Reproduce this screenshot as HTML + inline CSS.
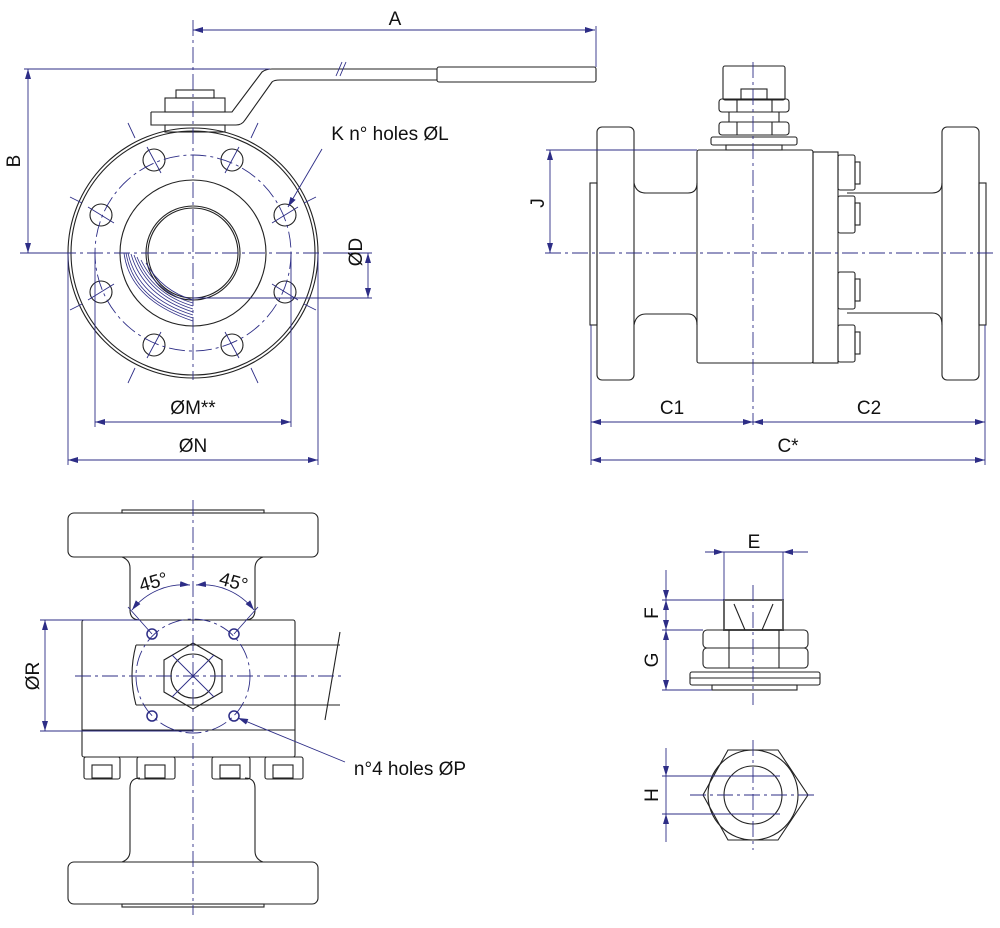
<!DOCTYPE html>
<html><head><style>html,body{margin:0;padding:0;background:#fff}svg{display:block}</style></head><body>
<svg width="1000" height="928" viewBox="0 0 1000 928" xmlns="http://www.w3.org/2000/svg" font-family="Liberation Sans, sans-serif">
<defs>
<marker id="ar" viewBox="0 0 10 6" refX="10" refY="3" markerWidth="10" markerHeight="6" orient="auto-start-reverse" markerUnits="userSpaceOnUse"><path d="M0,0L10,3L0,6z" fill="#2d2d86"/></marker>
</defs>
<g fill="none" stroke="#222" stroke-width="1.1">
<!-- TOP LEFT VIEW -->
<circle cx="193" cy="253" r="125"/><circle cx="193" cy="253" r="122"/>
<circle cx="193" cy="253" r="73"/><circle cx="193" cy="253" r="47"/><circle cx="193" cy="253" r="45"/>
<g>
<circle cx="154" cy="160" r="11"/><circle cx="232" cy="160" r="11"/>
<circle cx="101" cy="215" r="11"/><circle cx="285" cy="215" r="11"/>
<circle cx="101" cy="292" r="11"/><circle cx="285" cy="292" r="11"/>
<circle cx="154" cy="345" r="11"/><circle cx="232" cy="345" r="11"/>
</g>
<!-- handle -->
<rect x="176" y="90" width="38" height="8"/><rect x="165" y="98" width="60" height="14"/>
<rect x="165" y="125" width="60" height="7"/>
<path d="M151,112 H232 L262,72 Q266,69 272,69 H437 M151,112 V125 H236 Q242,125 245,120 L272,82 Q274,80 280,80 H437"/>
<rect x="437" y="67" width="159" height="15" rx="2"/>
<!-- TOP RIGHT VIEW -->
<rect x="597" y="127" width="37" height="253" rx="5"/><rect x="590" y="183" width="7" height="142"/>
<rect x="942" y="127" width="37" height="253" rx="5"/><rect x="979" y="183" width="7" height="142"/>
<path d="M634,183 Q636,193 646,193 H688 Q697,193 697,183 M634,325 Q636,314 646,314 H688 Q697,314 697,325"/>
<path d="M847,193 H932 Q942,193 942,183 M847,313 H932 Q942,313 942,325"/>
<rect x="697" y="150" width="116" height="213" rx="2"/><rect x="813" y="152" width="25" height="211"/>
<g><rect x="838" y="155" width="17" height="35" rx="2"/><rect x="855" y="162" width="5" height="22"/>
<rect x="838" y="196" width="17" height="37" rx="2"/><rect x="855" y="203" width="5" height="22"/>
<rect x="838" y="272" width="17" height="37" rx="2"/><rect x="855" y="279" width="5" height="22"/>
<rect x="838" y="325" width="17" height="37" rx="2"/><rect x="855" y="332" width="5" height="22"/></g>
<rect x="723" y="66" width="62" height="34" rx="2"/><rect x="741" y="89" width="26" height="10"/>
<rect x="719" y="99" width="70" height="13" rx="3"/><rect x="719" y="122" width="70" height="13" rx="3"/>
<path d="M737,99 V112 M772,99 V112 M737,122 V135 M772,122 V135 M729,112 V122 M779,112 V122"/>
<rect x="711" y="137" width="86" height="8" rx="2"/><rect x="726" y="145" width="56" height="5"/>
<!-- BOTTOM LEFT VIEW -->
<rect x="68" y="513" width="250" height="44" rx="6"/><rect x="122" y="510" width="142" height="3"/>
<rect x="68" y="862" width="250" height="42" rx="6"/><rect x="122" y="904" width="142" height="3"/>
<path d="M122,557 Q130,560 130,568 V610 Q130,620 140,620 M263,557 Q255,560 255,568 V610 Q255,620 245,620"/>
<path d="M122,862 Q130,859 130,851 V788 Q130,778 140,778 M263,862 Q255,859 255,851 V788 Q255,778 245,778"/>
<rect x="82" y="620" width="213" height="137" rx="2"/><line x1="82" y1="730" x2="295" y2="730"/>
<path d="M136,645 H340 M136,705 H340 M136,645 Q128,675 136,705"/>
<path d="M340,632 L325,720"/>
<polygon points="193,643 222,660 222,692 193,709 164,692 164,660"/>
<circle cx="193" cy="676" r="22"/>
<g><rect x="84" y="757" width="36" height="22" rx="2"/><rect x="92" y="765" width="20" height="13"/>
<rect x="137" y="757" width="38" height="22" rx="2"/><rect x="145" y="765" width="20" height="13"/>
<rect x="212" y="757" width="38" height="22" rx="2"/><rect x="220" y="765" width="20" height="13"/>
<rect x="265" y="757" width="38" height="22" rx="2"/><rect x="273" y="765" width="20" height="13"/></g>
<g stroke="#2d2d86" stroke-width="1.5"><circle cx="152" cy="634" r="5"/><circle cx="234" cy="634" r="5"/><circle cx="152" cy="716" r="5"/><circle cx="234" cy="716" r="5"/></g>
<!-- BOTTOM RIGHT -->
<rect x="724" y="600" width="59" height="30" stroke="#666" stroke-width="2"/>
<path d="M734,604 L745,630 M773,604 L762,630"/>
<rect x="703" y="630" width="105" height="18" rx="4"/><rect x="703" y="648" width="105" height="20" rx="4"/>
<path d="M729,630 V668 M779,630 V668"/>
<rect x="690" y="672" width="130" height="13" rx="2"/><line x1="690" y1="678" x2="820" y2="678"/>
<rect x="712" y="685" width="85" height="5"/>
<polygon points="728,750 778,750 808,795 778,840 728,840 703,795"/>
<circle cx="753" cy="795" r="45"/><circle cx="753" cy="795" r="29"/>
</g>
<!-- hatch -->
<g stroke="#2d2d86" stroke-width="0.8" fill="none">
<path d="M124,253 Q130,300 193,321 M126,253 Q134,300 193,318 M128,253 Q138,298 193,315 M131,254 Q143,296 193,312 M134,255 Q148,295 193,309 M137,257 Q152,294 193,306 M141,260 Q157,293 193,303 M146,263 Q162,291 193,300"/>
</g>
<!-- centerlines -->
<g stroke="#2d2d86" stroke-width="0.9" fill="none" stroke-dasharray="16,4,3,4">
<line x1="193" y1="20" x2="193" y2="380"/><line x1="60" y1="253" x2="325" y2="253"/>
<circle cx="193" cy="253" r="98"/>
<line x1="753" y1="62" x2="753" y2="425"/><line x1="545" y1="253" x2="995" y2="253"/>
<line x1="193" y1="500" x2="193" y2="915"/><line x1="75" y1="676" x2="345" y2="676"/>
<circle cx="193" cy="676" r="57"/>
<line x1="753" y1="585" x2="753" y2="705"/><line x1="753" y1="740" x2="753" y2="850"/><line x1="690" y1="795" x2="818" y2="795"/>
</g>
<g stroke="#2d2d86" stroke-width="0.9" fill="none">
<path d="M147,147 L161,173 M239,147 L225,173 M88,207 L114,223 M298,207 L272,223 M88,300 L114,284 M298,300 L272,284 M147,358 L161,332 M239,358 L225,332"/>
<path d="M128,123 L135,138 M258,123 L251,138 M70,197 L82,203 M316,197 L304,203 M70,310 L82,304 M316,310 L304,304 M128,383 L135,368 M258,383 L251,368"/>
<path d="M172,655 L214,697 M214,655 L172,697"/>
<!-- dims -->
<line x1="193" y1="30" x2="595" y2="30" marker-start="url(#ar)" marker-end="url(#ar)"/>
<line x1="596" y1="26" x2="596" y2="67"/>
<line x1="24" y1="69" x2="270" y2="69"/><line x1="28" y1="69" x2="28" y2="253" marker-start="url(#ar)" marker-end="url(#ar)"/>
<line x1="20" y1="253" x2="60" y2="253"/>
<line x1="193" y1="298" x2="372" y2="298"/><line x1="368" y1="253" x2="368" y2="298" marker-start="url(#ar)" marker-end="url(#ar)"/>
<line x1="325" y1="253" x2="372" y2="253"/>
<line x1="95" y1="253" x2="95" y2="427"/><line x1="291" y1="253" x2="291" y2="427"/>
<line x1="95" y1="422" x2="291" y2="422" marker-start="url(#ar)" marker-end="url(#ar)"/>
<line x1="68" y1="253" x2="68" y2="465"/><line x1="318" y1="253" x2="318" y2="465"/>
<line x1="68" y1="460" x2="318" y2="460" marker-start="url(#ar)" marker-end="url(#ar)"/>
<line x1="322" y1="149" x2="288" y2="207" marker-end="url(#ar)"/>
<line x1="546" y1="150" x2="697" y2="150"/><line x1="550" y1="150" x2="550" y2="253" marker-start="url(#ar)" marker-end="url(#ar)"/>
<line x1="591" y1="325" x2="591" y2="465"/><line x1="985" y1="325" x2="985" y2="465"/>
<line x1="591" y1="422" x2="753" y2="422" marker-start="url(#ar)" marker-end="url(#ar)"/>
<line x1="753" y1="422" x2="985" y2="422" marker-start="url(#ar)" marker-end="url(#ar)"/>
<line x1="591" y1="460" x2="985" y2="460" marker-start="url(#ar)" marker-end="url(#ar)"/>
<line x1="40" y1="620" x2="140" y2="620"/><line x1="40" y1="731" x2="193" y2="731"/>
<line x1="45" y1="620" x2="45" y2="731" marker-start="url(#ar)" marker-end="url(#ar)"/>
<path d="M132,610 A66,66 0 0 1 190,585" marker-start="url(#ar)" marker-end="url(#ar)"/>
<path d="M196,585 A66,66 0 0 1 254,610" marker-start="url(#ar)" marker-end="url(#ar)"/>
<path d="M128,607 L152,634 M258,607 L234,634"/>
<line x1="345" y1="762" x2="238" y2="718" marker-end="url(#ar)"/>
<line x1="724" y1="552" x2="724" y2="600"/><line x1="783" y1="552" x2="783" y2="600"/>
<line x1="705" y1="552" x2="724" y2="552" marker-end="url(#ar)"/><line x1="808" y1="552" x2="783" y2="552" marker-end="url(#ar)"/>
<line x1="724" y1="552" x2="783" y2="552"/>
<line x1="662" y1="600" x2="724" y2="600"/><line x1="662" y1="630" x2="703" y2="630"/><line x1="662" y1="690" x2="712" y2="690"/>
<line x1="666" y1="570" x2="666" y2="600" marker-end="url(#ar)"/>
<line x1="666" y1="600" x2="666" y2="630" marker-start="url(#ar)" marker-end="url(#ar)"/>
<line x1="666" y1="630" x2="666" y2="690" marker-start="url(#ar)" marker-end="url(#ar)"/>
<line x1="662" y1="776" x2="780" y2="776"/><line x1="662" y1="814" x2="780" y2="814"/>
<line x1="666" y1="748" x2="666" y2="776" marker-end="url(#ar)"/><line x1="666" y1="842" x2="666" y2="814" marker-end="url(#ar)"/>
<line x1="666" y1="776" x2="666" y2="814"/>
<path d="M336,76 L342,62 M340,76 L346,62"/>
</g>
<g fill="#111" font-size="19" text-anchor="middle">
<text x="395" y="25">A</text>
<text x="20" y="161" transform="rotate(-90 20 161)">B</text>
<text x="390" y="140">K n° holes ØL</text>
<text x="362" y="252" transform="rotate(-90 362 252)">ØD</text>
<text x="193" y="414">ØM**</text>
<text x="193" y="452">ØN</text>
<text x="544" y="203" transform="rotate(-90 544 203)">J</text>
<text x="672" y="414">C1</text>
<text x="869" y="414">C2</text>
<text x="788" y="452">C*</text>
<text x="155" y="588" transform="rotate(-15 155 588)">45°</text>
<text x="232" y="588" transform="rotate(15 232 588)">45°</text>
<text x="39" y="676" transform="rotate(-90 39 676)">ØR</text>
<text x="410" y="775">n°4 holes ØP</text>
<text x="754" y="548">E</text>
<text x="658" y="613" transform="rotate(-90 658 613)">F</text>
<text x="658" y="660" transform="rotate(-90 658 660)">G</text>
<text x="658" y="795" transform="rotate(-90 658 795)">H</text>
</g>
</svg>
</body></html>
